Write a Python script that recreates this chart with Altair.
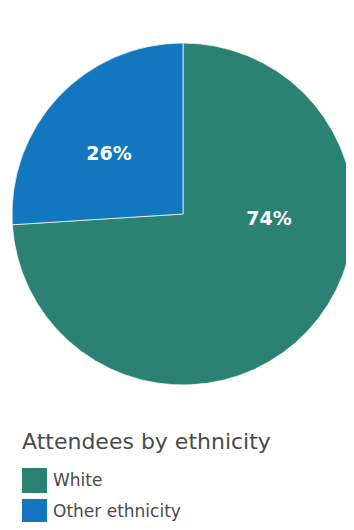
import altair as alt
import pandas as pd

categories = ["White", "Other ethnicity"]
values = [74, 26]
labels = ["74%", "26%"]
colors = ["#2b8272", "#1277bf"]

df = pd.DataFrame({"cat": categories, "val": values, "label": labels, "ord": [0, 1]})

base = alt.Chart(df).transform_stack(
    stack="val", groupby=[], as_=["v0", "v1"], sort=[alt.SortField("ord", order="ascending")]
).transform_calculate(mid="(datum.v0 + datum.v1) / 2")

FONT = "DejaVu Sans"
CX, CY = 175, 206

color = alt.Color(
    "cat:N",
    scale=alt.Scale(domain=categories, range=colors),
    sort=categories,
    legend=alt.Legend(
        title="Attendees by ethnicity",
        orient="none",
        legendX=14,
        legendY=424,
        titleFont=FONT,
        titleFontSize=22,
        titleFontWeight="normal",
        titleColor="#4a4a4a",
        titlePadding=14,
        titleLimit=400,
        labelFont=FONT,
        labelFontSize=17,
        labelFontWeight="normal",
        labelColor="#4a4a4a",
        labelOffset=6,
        labelLimit=300,
        symbolType="square",
        symbolSize=625,
        symbolStrokeWidth=0,
        symbolOpacity=1,
        rowPadding=6,
    ),
)

pie = base.mark_arc(radius=171, stroke="#ffffff", strokeWidth=0.7).encode(
    theta=alt.Theta("v0:Q", scale=alt.Scale(domain=[0, 100])),
    theta2="v1:Q",
    color=color,
    x=alt.value(CX),
    y=alt.value(CY),
)

txt_style = dict(font=FONT, fontSize=19, fontWeight="bold", color="#ffffff",
                 radius=92, baseline="middle")

t_white = base.mark_text(dx=19, dy=-58, **txt_style).encode(
    theta=alt.Theta("mid:Q", scale=alt.Scale(domain=[0, 100])),
    text="label:N", x=alt.value(CX), y=alt.value(CY)
).transform_filter(alt.datum.cat == "White")

t_other = base.mark_text(dx=-7, dy=3, **txt_style).encode(
    theta=alt.Theta("mid:Q", scale=alt.Scale(domain=[0, 100])),
    text="label:N", x=alt.value(CX), y=alt.value(CY)
).transform_filter(alt.datum.cat == "Other ethnicity")

chart = alt.layer(pie, t_white, t_other).properties(
    width=338, height=514, padding=0,
    autosize=alt.AutoSizeParams(type="none"),
).configure_view(stroke=None)

chart.save("out.html", embed_options={"renderer": "svg", "actions": False})
